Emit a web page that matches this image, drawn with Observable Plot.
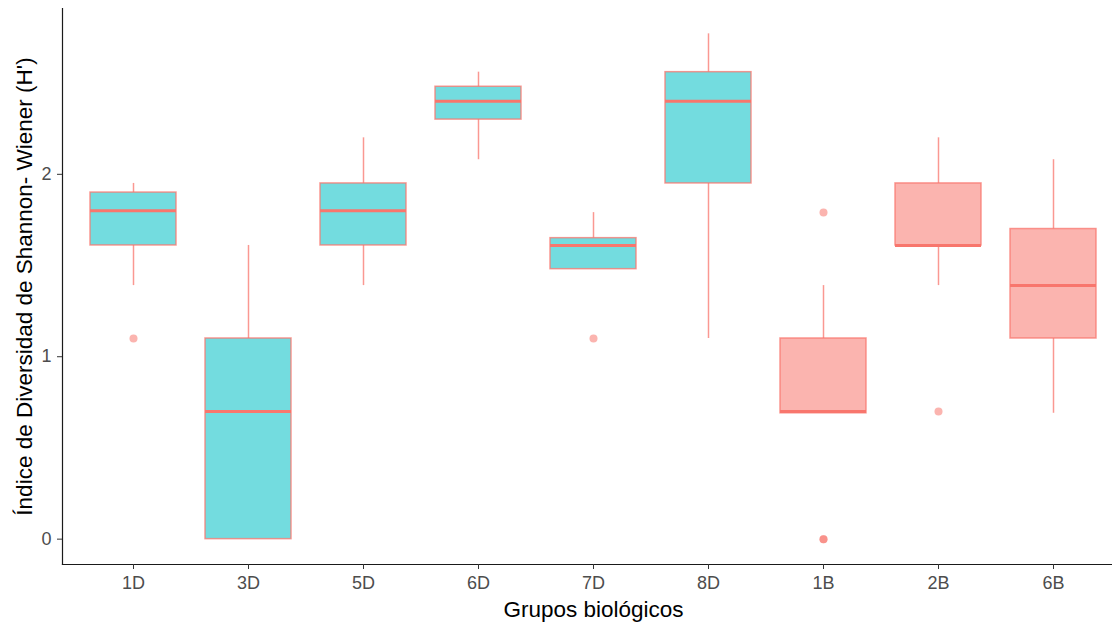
<!DOCTYPE html>
<html>
<head>
<meta charset="utf-8">
<script src="https://cdn.jsdelivr.net/npm/d3@7"></script>
<script src="https://cdn.jsdelivr.net/npm/@observablehq/plot@0.6"></script>
<style>
  html, body { margin: 0; padding: 0; background: #fff; overflow: hidden; }
</style>
</head>
<body>
<div id="chart"></div>
<script>
// Categories and groups
const grupos = ["1D", "3D", "5D", "6D", "7D", "8D", "1B", "2B", "6B"];
const tipo   = ["D", "D", "D", "D", "D", "D", "B", "B", "B"];
// Box statistics
const minimo  = [1.39, 0.00, 1.39, 2.08, 1.48, 1.10, 0.69, 1.39, 0.69];
const q1      = [1.61, 0.00, 1.61, 2.30, 1.48, 1.95, 0.69, 1.61, 1.10];
const mediana = [1.80, 0.70, 1.80, 2.40, 1.61, 2.40, 0.70, 1.61, 1.39];
const q3      = [1.90, 1.10, 1.95, 2.48, 1.65, 2.56, 1.10, 1.95, 1.70];
const maximo  = [1.95, 1.61, 2.20, 2.56, 1.79, 2.77, 1.39, 2.20, 2.08];
// Outliers
const atipicoGrupo = ["1D", "7D", "1B", "1B", "1B", "2B"];
const atipicoValor = [1.10, 1.10, 1.79, 0.00, 0.00, 0.70];
// Axis ticks
const yTicks = [0, 1, 2];

const cajas = grupos.map((g, i) => ({
  g, tipo: tipo[i], min: minimo[i], q1: q1[i], med: mediana[i], q3: q3[i], max: maximo[i]
}));
const atipicos = atipicoGrupo.map((g, i) => ({g, v: atipicoValor[i]}));

const yMin = -0.139, yMax = 2.909;
const linea = "#F8766D";

const chart = Plot.plot({
  width: 1112,
  height: 624,
  marginTop: 8,
  marginBottom: 60,
  marginLeft: 62,
  marginRight: -12,
  style: {fontFamily: "'Liberation Sans', Arial, sans-serif", background: "#fff"},
  x: {type: "band", domain: grupos, paddingInner: 0.25, paddingOuter: 0.225, axis: null},
  y: {domain: [yMin, yMax], axis: null},
  color: {domain: ["D", "B"], range: ["#00BFC4", "#F8766D"]},
  marks: [
    Plot.ruleX(cajas, {x: "g", y1: "min", y2: "q1", stroke: linea, strokeOpacity: 0.75, strokeWidth: 1.5}),
    Plot.ruleX(cajas, {x: "g", y1: "q3", y2: "max", stroke: linea, strokeOpacity: 0.75, strokeWidth: 1.5}),
    Plot.barY(cajas, {x: "g", y1: "q1", y2: "q3", fill: "tipo", fillOpacity: 0.55,
      stroke: linea, strokeOpacity: 0.75, strokeWidth: 1.5}),
    Plot.tickY(cajas, {x: "g", y: "med", stroke: linea, strokeWidth: 3}),
    Plot.dot(atipicos, {x: "g", y: "v", r: 4, fill: linea, fillOpacity: 0.55, stroke: "none"}),
    Plot.frame({anchor: "left", stroke: "#1a1a1a", strokeWidth: 1.2}),
    Plot.frame({anchor: "bottom", stroke: "#1a1a1a", strokeWidth: 1.2}),
    Plot.axisY({ticks: yTicks, tickSize: 5, tickPadding: 6, fontSize: 18, fill: "#4D4D4D", stroke: "#333", label: null, tickFormat: d => String(d)}),
    Plot.axisX({tickSize: 5, tickPadding: 7, fontSize: 18, fill: "#4D4D4D", stroke: "#333", label: null}),
    Plot.text(["Grupos biológicos"], {frameAnchor: "bottom", dy: 45, fontSize: 22.5, fill: "#000", lineAnchor: "middle"}),
    Plot.text(["Índice de Diversidad de Shannon- Wiener (H')"], {frameAnchor: "left", dx: -38, rotate: -90, textAnchor: "middle", fontSize: 22.5, fill: "#000", lineAnchor: "middle"})
  ]
});
document.getElementById("chart").appendChild(chart);
</script>
</body>
</html>
